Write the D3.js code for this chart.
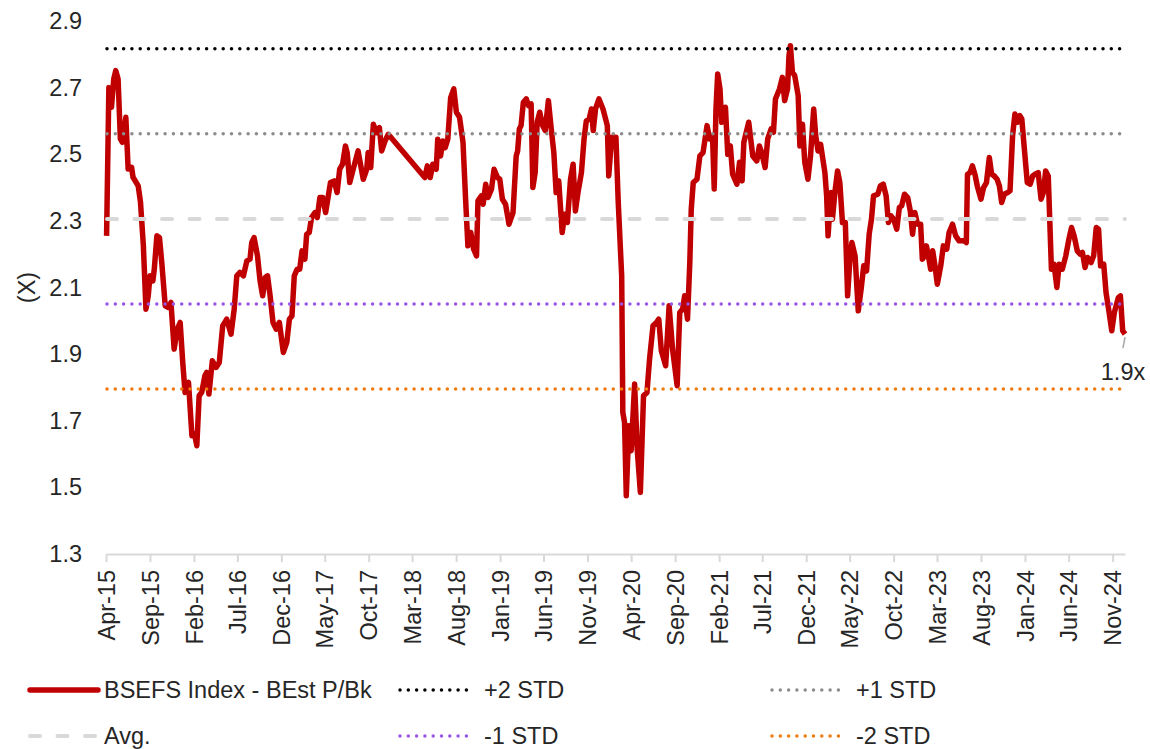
<!DOCTYPE html>
<html>
<head>
<meta charset="utf-8">
<script src="https://cdn.jsdelivr.net/npm/d3@7"></script>
<style>
    body { margin: 0; background: #fff; }
    svg text { font-family: "Liberation Sans", Arial, sans-serif; fill: #262626; }
</style>
</head>
<body>
<svg id="chart"></svg>
<script>
// ---- data ----
const seriesName = "BSEFS Index - BEst P/Bk";

const dates = [
    "2015-04-03","2015-04-11","2015-04-20","2015-04-28","2015-05-05","2015-05-13","2015-05-21","2015-05-28","2015-06-09","2015-06-17",
    "2015-06-29","2015-07-04","2015-07-22","2015-07-30","2015-08-09","2015-08-18","2015-08-26","2015-09-01","2015-09-11","2015-09-16",
    "2015-09-25","2015-10-04","2015-10-12","2015-10-24","2015-11-04","2015-11-13","2015-11-24","2015-12-05","2015-12-15","2015-12-24",
    "2016-01-01","2016-01-13","2016-01-25","2016-02-03","2016-02-11","2016-02-19","2016-02-28","2016-03-10","2016-03-16","2016-03-24",
    "2016-04-05","2016-04-18","2016-04-29","2016-05-11","2016-05-25","2016-06-09","2016-06-20","2016-06-29","2016-07-10","2016-07-22",
    "2016-08-03","2016-08-14","2016-08-20","2016-08-28","2016-09-09","2016-09-18","2016-09-27","2016-10-06","2016-10-14","2016-10-23",
    "2016-11-02","2016-11-13","2016-11-24","2016-12-08","2016-12-20","2016-12-29","2017-01-07","2017-01-15","2017-01-25","2017-02-03",
    "2017-02-11","2017-02-21","2017-02-27","2017-03-08","2017-03-16","2017-03-28","2017-04-05","2017-04-14","2017-04-24","2017-05-04",
    "2017-05-21","2017-06-03","2017-06-13","2017-06-22","2017-07-02","2017-07-12","2017-07-18","2017-07-27","2017-08-14","2017-08-25",
    "2017-09-12","2017-09-24","2017-09-29","2017-10-08","2017-10-17","2017-10-28","2017-11-07","2017-11-15","2017-11-27","2017-12-08",
    "2018-04-14","2018-04-23","2018-05-03","2018-05-12","2018-05-24","2018-05-29","2018-06-08","2018-06-16","2018-06-24","2018-07-03",
    "2018-07-13","2018-07-24","2018-08-02","2018-08-13","2018-08-25","2018-09-03","2018-09-11","2018-09-21","2018-10-01","2018-10-11",
    "2018-10-16","2018-10-28","2018-11-03","2018-11-12","2018-11-20","2018-12-02","2018-12-11","2018-12-23","2018-12-31","2019-01-09",
    "2019-01-20","2019-02-01","2019-02-15","2019-02-26","2019-03-03","2019-03-09","2019-03-15","2019-03-23","2019-04-02","2019-04-10",
    "2019-04-19","2019-04-25","2019-05-03","2019-05-10","2019-05-19","2019-05-29","2019-06-07","2019-06-18","2019-06-28","2019-07-07",
    "2019-07-15","2019-07-24","2019-08-05","2019-08-14","2019-08-23","2019-09-03","2019-09-12","2019-09-20","2019-09-29","2019-10-11",
    "2019-10-20","2019-10-28","2019-11-07","2019-11-15","2019-11-21","2019-11-29","2019-12-11","2019-12-25","2020-01-09","2020-01-14",
    "2020-01-24","2020-02-08","2020-02-16","2020-02-28","2020-03-03","2020-03-09","2020-03-15","2020-03-24","2020-04-01","2020-04-13",
    "2020-04-22","2020-05-03","2020-05-14","2020-05-26","2020-06-04","2020-06-16","2020-06-28","2020-07-06","2020-07-15","2020-07-30",
    "2020-08-11","2020-08-23","2020-09-08","2020-09-17","2020-09-27","2020-10-04","2020-10-14","2020-10-22","2020-10-27","2020-11-03",
    "2020-11-16","2020-11-26","2020-12-07","2020-12-21","2020-12-30","2021-01-09","2021-01-15","2021-01-21","2021-01-27","2021-02-04",
    "2021-02-10","2021-02-23","2021-03-03","2021-03-12","2021-03-20","2021-04-04","2021-04-13","2021-04-22","2021-04-28","2021-05-15",
    "2021-05-29","2021-06-12","2021-06-21","2021-06-29","2021-07-11","2021-07-20","2021-08-01","2021-08-09","2021-08-16","2021-08-30",
    "2021-09-09","2021-09-17","2021-09-27","2021-10-02","2021-10-07","2021-10-14","2021-10-22","2021-11-03","2021-11-09","2021-11-18",
    "2021-11-26","2021-12-07","2021-12-16","2021-12-27","2022-01-03","2022-01-11","2022-01-20","2022-02-04","2022-02-10","2022-02-15",
    "2022-02-25","2022-03-02","2022-03-12","2022-03-20","2022-03-28","2022-04-06","2022-04-16","2022-04-24","2022-05-02","2022-05-09",
    "2022-05-20","2022-05-31","2022-06-10","2022-06-19","2022-06-29","2022-07-08","2022-07-16","2022-07-23","2022-08-07","2022-08-16",
    "2022-08-26","2022-09-05","2022-09-13","2022-09-22","2022-10-01","2022-10-12","2022-10-21","2022-10-29","2022-11-08","2022-11-19",
    "2022-11-28","2022-12-06","2022-12-14","2022-12-23","2023-01-03","2023-01-09","2023-01-17","2023-01-23","2023-01-31","2023-02-07",
    "2023-02-14","2023-02-22","2023-03-02","2023-03-14","2023-03-23","2023-04-04","2023-04-12","2023-04-24","2023-05-05","2023-05-17",
    "2023-06-03","2023-06-11","2023-06-15","2023-06-24","2023-07-02","2023-07-11","2023-07-19","2023-08-01","2023-08-10","2023-08-20",
    "2023-08-30","2023-09-07","2023-09-16","2023-09-26","2023-10-04","2023-10-12","2023-10-21","2023-11-02","2023-11-10","2023-11-19",
    "2023-11-27","2023-12-06","2023-12-14","2023-12-21","2023-12-29","2024-01-09","2024-01-19","2024-01-28","2024-02-05","2024-02-16",
    "2024-02-26","2024-03-05","2024-03-13","2024-03-22","2024-04-02","2024-04-11","2024-04-21","2024-04-29","2024-05-10","2024-05-22",
    "2024-06-03","2024-06-11","2024-06-20","2024-07-01","2024-07-11","2024-07-19","2024-07-28","2024-08-06","2024-08-18","2024-08-27",
    "2024-09-05","2024-09-13","2024-09-20","2024-10-01","2024-10-09","2024-10-18","2024-10-29","2024-11-07","2024-11-13","2024-11-21",
    "2024-11-28","2024-12-06","2024-12-14"
];

const pbValues = [
    2.255,2.70,2.641,2.726,2.751,2.726,2.546,2.536,2.611,2.456,
    2.461,2.431,2.405,2.356,2.225,2.035,2.075,2.135,2.12,2.155,
    2.255,2.25,2.175,2.045,2.04,2.055,1.915,1.975,1.995,1.875,
    1.785,1.815,1.655,1.66,1.625,1.775,1.785,1.835,1.845,1.78,
    1.88,1.86,1.875,1.985,2.005,1.96,2.035,2.135,2.145,2.135,
    2.18,2.185,2.235,2.25,2.195,2.12,2.075,2.13,2.135,2.075,
    1.995,1.975,1.995,1.905,1.935,2.005,2.015,2.135,2.155,2.155,
    2.21,2.185,2.26,2.265,2.31,2.325,2.31,2.37,2.37,2.325,
    2.415,2.42,2.385,2.455,2.47,2.525,2.505,2.415,2.475,2.51,
    2.425,2.455,2.505,2.46,2.59,2.565,2.58,2.51,2.54,2.56,
    2.43,2.465,2.43,2.47,2.455,2.545,2.495,2.54,2.52,2.545,
    2.67,2.696,2.626,2.611,2.536,2.365,2.225,2.265,2.215,2.195,
    2.36,2.375,2.35,2.41,2.37,2.395,2.455,2.43,2.425,2.365,
    2.35,2.29,2.325,2.495,2.51,2.576,2.586,2.656,2.666,2.646,
    2.651,2.40,2.445,2.596,2.626,2.586,2.571,2.661,2.576,2.505,
    2.385,2.42,2.265,2.32,2.295,2.425,2.47,2.33,2.385,2.445,
    2.545,2.60,2.606,2.636,2.571,2.636,2.666,2.636,2.586,2.435,
    2.551,2.551,2.356,2.135,1.725,1.695,1.475,1.685,1.61,1.81,
    1.615,1.485,1.775,1.785,1.885,1.985,1.995,2.005,1.91,1.865,
    2.045,1.915,1.805,2.025,2.035,2.075,2.005,2.175,2.335,2.415,
    2.425,2.495,2.505,2.586,2.546,2.556,2.396,2.636,2.741,2.696,
    2.596,2.641,2.50,2.525,2.44,2.41,2.476,2.42,2.536,2.596,
    2.495,2.48,2.525,2.505,2.46,2.546,2.576,2.566,2.666,2.696,
    2.731,2.661,2.696,2.796,2.826,2.746,2.736,2.676,2.525,2.59,
    2.476,2.425,2.495,2.636,2.556,2.51,2.53,2.445,2.375,2.255,
    2.385,2.305,2.395,2.45,2.415,2.295,2.295,2.075,2.185,2.235,
    2.195,2.03,2.095,2.165,2.15,2.26,2.305,2.375,2.38,2.405,
    2.41,2.375,2.295,2.315,2.305,2.275,2.34,2.345,2.38,2.37,
    2.33,2.26,2.325,2.29,2.29,2.185,2.195,2.225,2.19,2.155,
    2.21,2.165,2.11,2.165,2.225,2.215,2.265,2.29,2.255,2.24,
    2.24,2.235,2.44,2.445,2.465,2.44,2.405,2.365,2.40,2.415,
    2.49,2.44,2.435,2.425,2.405,2.355,2.38,2.385,2.39,2.556,
    2.621,2.596,2.616,2.606,2.525,2.415,2.41,2.435,2.44,2.445,
    2.365,2.385,2.45,2.435,2.155,2.17,2.10,2.17,2.155,2.195,
    2.25,2.28,2.255,2.21,2.20,2.205,2.16,2.19,2.175,2.195,
    2.28,2.275,2.165,2.17,2.085,2.035,1.97,2.025,2.045,2.07,
    2.075,1.97,1.96
];

// long-run average and standard deviation bands
const avgLevel = 2.306;
const stdDev = 0.2555;
const bandLabels = ["+2 STD", "+1 STD", "Avg.", "-1 STD", "-2 STD"];
const bandMultiples = [2, 1, 0, -1, -2];

const yTicks = [1.3, 1.5, 1.7, 1.9, 2.1, 2.3, 2.5, 2.7, 2.9];
const xTickLabels = ["Apr-15","Sep-15","Feb-16","Jul-16","Dec-16","May-17","Oct-17","Mar-18","Aug-18","Jan-19",
    "Jun-19","Nov-19","Apr-20","Sep-20","Feb-21","Jul-21","Dec-21","May-22","Oct-22","Mar-23",
    "Aug-23","Jan-24","Jun-24","Nov-24"];
const yTitle = "(X)";
const endLabel = "1.9x";

// ---- styles ----
const bandStyle = {
    "+2 STD": { color: "#000000", dash: "0 8.3", width: 3.5, cap: "round" },
    "+1 STD": { color: "#8c8c8c", dash: "0 8.3", width: 3.5, cap: "round" },
    "Avg.":   { color: "#d9d9d9", dash: "10 17.5", width: 4, cap: "round" },
    "-1 STD": { color: "#9b55e6", dash: "0 8.3", width: 3.5, cap: "round" },
    "-2 STD": { color: "#f07a10", dash: "0 8.3", width: 3.5, cap: "round" }
};
const lineColor = "#c00000";
const lineWidth = 5.5;
const fontSize = "23.5px";

// ---- setup ----
const parseDate = d3.timeParse("%Y-%m-%d");
const parseTick = d3.timeParse("%b-%y");
const data = dates.map((d, i) => ({ date: parseDate(d), value: pbValues[i] }));

const svg = d3.select("#chart")
    .attr("width", 1150)
    .attr("height", 749);

const plot = { left: 106, right: 1125, top: 21, bottom: 554 };

const x = d3.scaleTime()
    .domain([new Date(2015, 3, 1), new Date(2024, 11, 14)])
    .range([plot.left, plot.right]);
const y = d3.scaleLinear()
    .domain([1.3, 2.9])
    .range([plot.bottom, plot.top]);

// x axis (rotated month labels)
const xAxis = svg.append("g")
    .attr("transform", `translate(0, ${plot.bottom})`)
    .call(d3.axisBottom(x)
        .tickValues(xTickLabels.map(parseTick))
        .tickFormat(d3.timeFormat("%b-%y"))
        .tickSize(8)
        .tickSizeOuter(0));
xAxis.select(".domain").attr("stroke", "#d9d9d9").attr("stroke-width", 2);
xAxis.selectAll(".tick line").attr("stroke", "#d9d9d9").attr("stroke-width", 2);
xAxis.selectAll(".tick text")
    .attr("transform", "rotate(-90)")
    .attr("text-anchor", "end")
    .attr("x", -16)
    .attr("y", 0)
    .attr("dy", "0.35em")
    .style("font-size", fontSize);

// y axis (labels only)
const yAxis = svg.append("g")
    .attr("transform", `translate(${plot.left}, 0)`)
    .call(d3.axisLeft(y)
        .tickValues(yTicks)
        .tickFormat(d3.format(".1f"))
        .tickSize(0)
        .tickPadding(24));
yAxis.select(".domain").remove();
yAxis.selectAll(".tick text").style("font-size", fontSize);

svg.append("text")
    .attr("transform", `translate(27, ${(plot.top + plot.bottom) / 2}) rotate(-90)`)
    .attr("text-anchor", "middle")
    .attr("dy", "0.35em")
    .style("font-size", fontSize)
    .text(yTitle);

// P/B series
const line = d3.line()
    .x(d => x(d.date))
    .y(d => y(d.value));

svg.append("path")
    .datum(data)
    .attr("fill", "none")
    .attr("stroke", lineColor)
    .attr("stroke-width", lineWidth)
    .attr("stroke-linejoin", "round")
    .attr("d", line);

// average and std bands, drawn over the series
bandLabels.forEach((lbl, i) => {
    const s = bandStyle[lbl];
    const level = avgLevel + bandMultiples[i] * stdDev;
    svg.append("line")
        .attr("x1", plot.left + 1)
        .attr("x2", plot.right)
        .attr("y1", y(level))
        .attr("y2", y(level))
        .attr("stroke", s.color)
        .attr("stroke-width", s.width)
        .attr("stroke-dasharray", s.dash)
        .attr("stroke-linecap", s.cap);
});

// end label
const last = data[data.length - 1];
const lx = x(last.date), ly = y(last.value);
svg.append("line")
    .attr("x1", lx)
    .attr("y1", ly + 3)
    .attr("x2", lx - 2)
    .attr("y2", ly + 14)
    .attr("stroke", "#a6a6a6")
    .attr("stroke-width", 1.5);
svg.append("text")
    .attr("x", lx - 2)
    .attr("y", ly + 46)
    .attr("text-anchor", "middle")
    .style("font-size", fontSize)
    .text(endLabel);

// legend: series, +2, +1 on first row; Avg, -1, -2 on second
const legendOrder = [seriesName, "+2 STD", "+1 STD", "Avg.", "-1 STD", "-2 STD"];
const colX = [28, 400, 772];
const rowY = [690, 736];
legendOrder.forEach((lbl, i) => {
    const gx = colX[i % 3];
    const gy = rowY[Math.floor(i / 3)];
    const g = svg.append("g").attr("transform", `translate(${gx}, ${gy})`);
    if (lbl === seriesName) {
        g.append("line")
            .attr("x1", 2).attr("x2", 70)
            .attr("stroke", lineColor)
            .attr("stroke-width", lineWidth)
            .attr("stroke-linecap", "round");
        g.append("text")
            .attr("x", 76).attr("dy", "0.35em")
            .style("font-size", fontSize)
            .text(lbl);
    } else {
        const s = bandStyle[lbl];
        const sample = lbl === "Avg." ? [2, 72] : [0, 68];
        g.append("line")
            .attr("x1", sample[0]).attr("x2", sample[1])
            .attr("stroke", s.color)
            .attr("stroke-width", s.width)
            .attr("stroke-dasharray", s.dash)
            .attr("stroke-linecap", s.cap);
        g.append("text")
            .attr("x", lbl === "Avg." ? 76 : 84).attr("dy", "0.35em")
            .style("font-size", fontSize)
            .text(lbl);
    }
});
</script>
</body>
</html>
